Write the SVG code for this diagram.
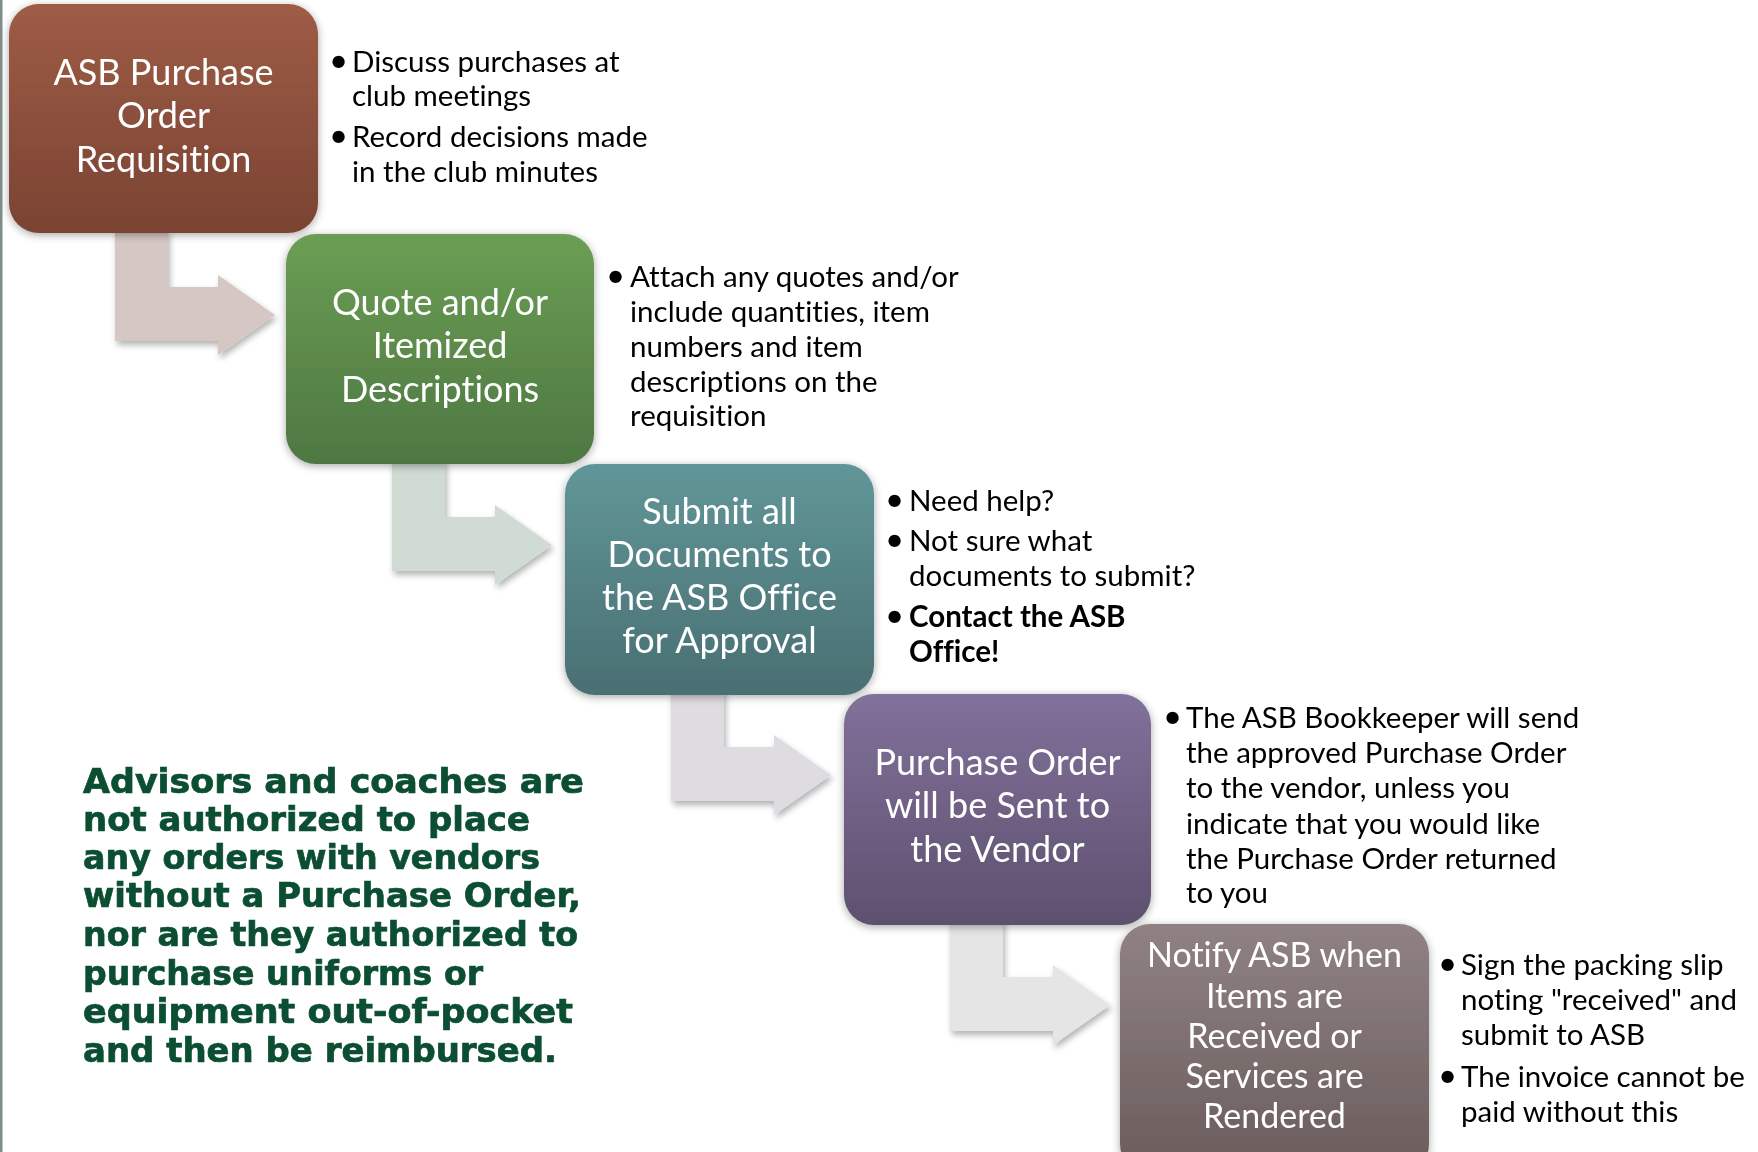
<svg xmlns="http://www.w3.org/2000/svg" width="1758" height="1152" viewBox="0 0 1758 1152">
<style>
.bt{font-family:Lato,"Open Sans","DejaVu Sans",sans-serif;font-size:36px;fill:#ffffff;text-anchor:middle;font-variant-ligatures:none}
.bt5{font-size:34px}
.bl{font-family:Lato,"Open Sans","DejaVu Sans",sans-serif;font-size:29.5px;fill:#000000;font-variant-ligatures:none}
.dot{font-family:Lato,"Open Sans","DejaVu Sans",sans-serif;font-size:33px;fill:#000000}
.bold{font-weight:bold}
.note{font-family:"DejaVu Sans",Lato,sans-serif;font-weight:bold;font-size:33px;fill:#0B4E32;stroke:#0B4E32;stroke-width:0.7}
</style>
<defs>
<filter id="bshadow" x="-10%" y="-10%" width="120%" height="125%">
<feGaussianBlur in="SourceAlpha" stdDeviation="4"/>
<feOffset dx="0" dy="2" result="b"/>
<feComponentTransfer><feFuncA type="linear" slope="0.35"/></feComponentTransfer>
<feMerge><feMergeNode/><feMergeNode in="SourceGraphic"/></feMerge>
</filter>
<filter id="ashadow" x="-10%" y="-10%" width="130%" height="130%">
<feGaussianBlur in="SourceAlpha" stdDeviation="3"/>
<feOffset dx="2" dy="4" result="b"/>
<feComponentTransfer><feFuncA type="linear" slope="0.3"/></feComponentTransfer>
<feMerge><feMergeNode/><feMergeNode in="SourceGraphic"/></feMerge>
</filter>
<linearGradient id="g1" x1="0" y1="0" x2="0" y2="1"><stop offset="0" stop-color="#9E5C46"/><stop offset="1" stop-color="#7A4332"/></linearGradient>
<linearGradient id="g2" x1="0" y1="0" x2="0" y2="1"><stop offset="0" stop-color="#6B9E54"/><stop offset="1" stop-color="#4E7742"/></linearGradient>
<linearGradient id="g3" x1="0" y1="0" x2="0" y2="1"><stop offset="0" stop-color="#619698"/><stop offset="1" stop-color="#496F72"/></linearGradient>
<linearGradient id="g4" x1="0" y1="0" x2="0" y2="1"><stop offset="0" stop-color="#81719B"/><stop offset="1" stop-color="#5E506E"/></linearGradient>
<linearGradient id="g5" x1="0" y1="0" x2="0" y2="1"><stop offset="0" stop-color="#908282"/><stop offset="1" stop-color="#6A5C5C"/></linearGradient>
<path id="arr" d="M 106 225 H 159 V 283 H 209 V 271 L 266 311 L 209 351 V 337 H 106 Z"/>
</defs>
<rect width="1758" height="1152" fill="#ffffff"/>
<rect x="0" y="0" width="2.5" height="1152" fill="#7E8E8A"/>

<g id="connectors" filter="url(#ashadow)">
<use href="#arr" transform="translate(9,4)" fill="#D5C7C4"/>
<use href="#arr" transform="translate(286,234)" fill="#D0DCD3"/>
<use href="#arr" transform="translate(565,464)" fill="#DEDCE1"/>
<use href="#arr" transform="translate(844,694)" fill="#E6E5E6"/>
</g>

<g id="node1">
<rect x="9" y="4" width="309" height="229" rx="30" fill="url(#g1)" filter="url(#bshadow)"/>
<text class="bt" x="163.5" y="85">ASB Purchase</text>
<text class="bt" x="163.5" y="128">Order</text>
<text class="bt" x="163.5" y="172">Requisition</text>
</g>
<g id="notes1">
<text class="dot" x="329" y="72">•</text>
<text class="bl" x="352" y="72">Discuss purchases at</text>
<text class="bl" x="352" y="106">club meetings</text>
<text class="dot" x="329" y="147">•</text>
<text class="bl" x="352" y="147">Record decisions made</text>
<text class="bl" x="352" y="182">in the club minutes</text>
</g>

<g id="node2">
<rect x="286" y="234" width="308" height="230" rx="30" fill="url(#g2)" filter="url(#bshadow)"/>
<text class="bt" x="440" y="315">Quote and/or</text>
<text class="bt" x="440" y="358">Itemized</text>
<text class="bt" x="440" y="402">Descriptions</text>
</g>
<g id="notes2">
<text class="dot" x="606" y="287">•</text>
<text class="bl" x="630" y="287">Attach any quotes and/or</text>
<text class="bl" x="630" y="322">include quantities, item</text>
<text class="bl" x="630" y="357">numbers and item</text>
<text class="bl" x="630" y="392">descriptions on the</text>
<text class="bl" x="630" y="426">requisition</text>
</g>

<g id="node3">
<rect x="565" y="464" width="309" height="231" rx="30" fill="url(#g3)" filter="url(#bshadow)"/>
<text class="bt" x="719.5" y="524">Submit all</text>
<text class="bt" x="719.5" y="567">Documents to</text>
<text class="bt" x="719.5" y="610">the ASB Office</text>
<text class="bt" x="719.5" y="653">for Approval</text>
</g>
<g id="notes3">
<text class="dot" x="885" y="511">•</text>
<text class="bl" x="909" y="511">Need help?</text>
<text class="dot" x="885" y="551">•</text>
<text class="bl" x="909" y="551">Not sure what</text>
<text class="bl" x="909" y="586">documents to submit?</text>
<text class="dot" x="885" y="627">•</text>
<text class="bl bold" x="909" y="627">Contact the ASB</text>
<text class="bl bold" x="909" y="662">Office!</text>
</g>

<g id="node4">
<rect x="844" y="694" width="307" height="231" rx="30" fill="url(#g4)" filter="url(#bshadow)"/>
<text class="bt" x="997.5" y="775">Purchase Order</text>
<text class="bt" x="997.5" y="818">will be Sent to</text>
<text class="bt" x="997.5" y="862">the Vendor</text>
</g>
<g id="notes4">
<text class="dot" x="1163" y="728">•</text>
<text class="bl" x="1186" y="728">The ASB Bookkeeper will send</text>
<text class="bl" x="1186" y="763">the approved Purchase Order</text>
<text class="bl" x="1186" y="798">to the vendor, unless you</text>
<text class="bl" x="1186" y="834">indicate that you would like</text>
<text class="bl" x="1186" y="869">the Purchase Order returned</text>
<text class="bl" x="1186" y="903">to you</text>
</g>

<g id="node5">
<rect x="1120" y="924" width="309" height="250" rx="30" fill="url(#g5)" filter="url(#bshadow)"/>
<text class="bt bt5" x="1274.5" y="967">Notify ASB when</text>
<text class="bt bt5" x="1274.5" y="1008">Items are</text>
<text class="bt bt5" x="1274.5" y="1048">Received or</text>
<text class="bt bt5" x="1274.5" y="1088">Services are</text>
<text class="bt bt5" x="1274.5" y="1128">Rendered</text>
</g>
<g id="notes5">
<text class="dot" x="1438" y="975">•</text>
<text class="bl" x="1461" y="975">Sign the packing slip</text>
<text class="bl" x="1461" y="1010">noting "received" and</text>
<text class="bl" x="1461" y="1045">submit to ASB</text>
<text class="dot" x="1438" y="1087">•</text>
<text class="bl" x="1461" y="1087">The invoice cannot be</text>
<text class="bl" x="1461" y="1122">paid without this</text>
</g>

<g id="warning">
<text class="note" x="83" y="793" textLength="501" lengthAdjust="spacingAndGlyphs">Advisors and coaches are</text>
<text class="note" x="83" y="831" textLength="447" lengthAdjust="spacingAndGlyphs">not authorized to place</text>
<text class="note" x="83" y="869" textLength="457" lengthAdjust="spacingAndGlyphs">any orders with vendors</text>
<text class="note" x="83" y="907" textLength="498" lengthAdjust="spacingAndGlyphs">without a Purchase Order,</text>
<text class="note" x="83" y="946" textLength="495" lengthAdjust="spacingAndGlyphs">nor are they authorized to</text>
<text class="note" x="83" y="985" textLength="400" lengthAdjust="spacingAndGlyphs">purchase uniforms or</text>
<text class="note" x="83" y="1023" textLength="490" lengthAdjust="spacingAndGlyphs">equipment out-of-pocket</text>
<text class="note" x="83" y="1062" textLength="474" lengthAdjust="spacingAndGlyphs">and then be reimbursed.</text>
</g>
</svg>
